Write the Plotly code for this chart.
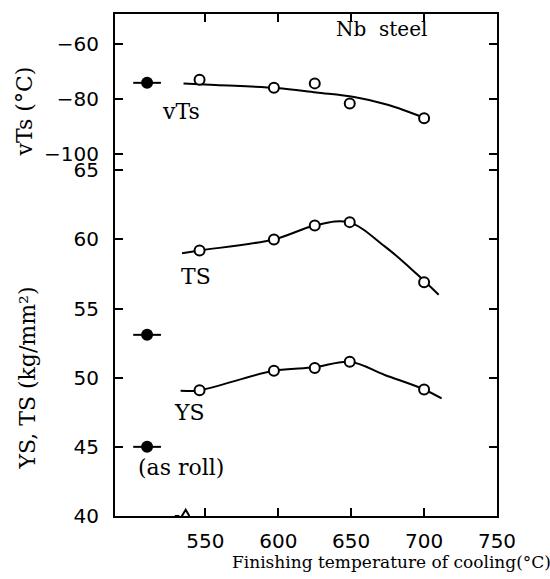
import plotly.graph_objects as go

# ---------------- data ----------------
temps = [546, 597, 625, 649, 700]                 # finishing temperature of cooling (°C)
vts = [-73.0, -75.9, -74.3, -81.6, -86.9]         # vTs (°C)
ts = [59.2, 60.0, 61.0, 61.25, 56.9]              # TS (kg/mm2)
ys = [49.1, 50.5, 50.7, 51.15, 49.15]             # YS (kg/mm2)

as_rolled_x = [510]                               # plotted left of the axis break
as_rolled_vts = [-74.1]
as_rolled_ts = [53.1]
as_rolled_ys = [45.0]

# hand-drawn trend curves
vts_fit_x = [535, 557, 599, 626, 652, 675, 701]
vts_fit_y = [-74.3, -74.9, -76.0, -77.6, -79.2, -82.0, -86.9]
ts_fit_x = [534, 546, 597, 625, 648, 673, 695, 710]
ts_fit_y = [59.0, 59.2, 60.0, 61.0, 61.25, 59.5, 57.5, 56.0]
ys_fit_x = [533, 546, 597, 625, 649, 673, 700, 712]
ys_fit_y = [49.05, 49.1, 50.5, 50.75, 51.15, 50.2, 49.15, 48.5]

x_ticks = [550, 600, 650, 700, 750]
y_ticks = [40, 45, 50, 55, 60, 65]
y2_ticks = [-60, -80, -100]

# ---------------- figure ----------------
fig = go.Figure()

line_style = dict(color="black", width=2, shape="spline", smoothing=1.0)
open_marker = dict(symbol="circle", size=10, color="white", line=dict(color="black", width=2))
filled_marker = dict(symbol="circle", size=12, color="black")
bar = dict(type="constant", value=9.5, color="black", thickness=2, width=0)

# vTs (upper scale)
fig.add_trace(go.Scatter(x=vts_fit_x, y=vts_fit_y, mode="lines", line=line_style, yaxis="y2"))
fig.add_trace(go.Scatter(x=temps, y=vts, mode="markers", marker=open_marker, yaxis="y2"))
fig.add_trace(go.Scatter(x=as_rolled_x, y=as_rolled_vts, mode="markers", marker=filled_marker,
                         error_x=bar, yaxis="y2"))

# TS, YS (lower scale)
fig.add_trace(go.Scatter(x=ts_fit_x, y=ts_fit_y, mode="lines", line=line_style))
fig.add_trace(go.Scatter(x=temps, y=ts, mode="markers", marker=open_marker))
fig.add_trace(go.Scatter(x=ys_fit_x, y=ys_fit_y, mode="lines", line=line_style))
fig.add_trace(go.Scatter(x=temps, y=ys, mode="markers", marker=open_marker))
fig.add_trace(go.Scatter(x=as_rolled_x * 2, y=as_rolled_ts + as_rolled_ys, mode="markers",
                         marker=filled_marker, error_x=bar))

tick_font = dict(family="DejaVu Sans", size=20, color="black")
serif = "DejaVu Serif"

axis_common = dict(showline=True, linecolor="black", linewidth=2, ticks="inside", ticklen=8,
                   tickwidth=2, tickcolor="black", mirror="ticks", showgrid=False,
                   zeroline=False, tickfont=tick_font)

fig.update_layout(
    width=550, height=579,
    margin=dict(l=115, r=53, t=12, b=63),
    paper_bgcolor="white", plot_bgcolor="white",
    showlegend=False, hovermode=False,
    xaxis=dict(range=[488, 750], tickvals=x_ticks, ticklabelstandoff=6, **axis_common),
    yaxis=dict(range=[40, 76.3], tickvals=y_ticks, ticklabelstandoff=10, **axis_common),
    yaxis2=dict(range=[-230.8, -49.2], tickvals=y2_ticks, overlaying="y", side="left",
                anchor="x", ticklabelstandoff=10, **axis_common),
)

# axis break mark on the bottom axis
fig.add_shape(type="path", xref="x", yref="y",
              path="M 529,40 L 531.5,40 L 533,39.85 L 536.5,40.45 L 539,40",
              line=dict(color="black", width=2))

ann_font = dict(family=serif, size=22, color="black")
fig.add_annotation(x=671, y=-54.8, xref="x", yref="y2", text="Nb\u00a0\u00a0steel",
                   showarrow=False, font=dict(family=serif, size=20, color="black"))
fig.add_annotation(x=533, y=-84.5, xref="x", yref="y2", text="vTs", showarrow=False,
                   font=ann_font)
fig.add_annotation(x=543.6, y=57.3, xref="x", yref="y", text="TS", showarrow=False,
                   font=ann_font)
fig.add_annotation(x=539, y=47.5, xref="x", yref="y", text="YS", showarrow=False,
                   font=ann_font)
fig.add_annotation(x=533.3, y=43.5, xref="x", yref="y", text="(as roll)", showarrow=False,
                   font=ann_font)

# axis titles
fig.add_annotation(x=0.725, y=-0.091, xref="paper", yref="paper",
                   text="Finishing temperature of cooling(°C)", showarrow=False,
                   font=dict(family=serif, size=17, color="black"),
                   xanchor="center", yanchor="middle")
fig.add_annotation(x=-0.238, y=0.806, xref="paper", yref="paper", text="vTs (°C)",
                   textangle=-90, showarrow=False, xanchor="center", yanchor="middle",
                   font=dict(family=serif, size=22, color="black"))
fig.add_annotation(x=-0.230, y=0.274, xref="paper", yref="paper", text="YS, TS (kg/mm²)",
                   textangle=-90, showarrow=False, xanchor="center", yanchor="middle",
                   font=dict(family=serif, size=22, color="black"))

fig.write_html("out.html", config={"displayModeBar": False},
               post_script="document.body.style.margin='0';")
